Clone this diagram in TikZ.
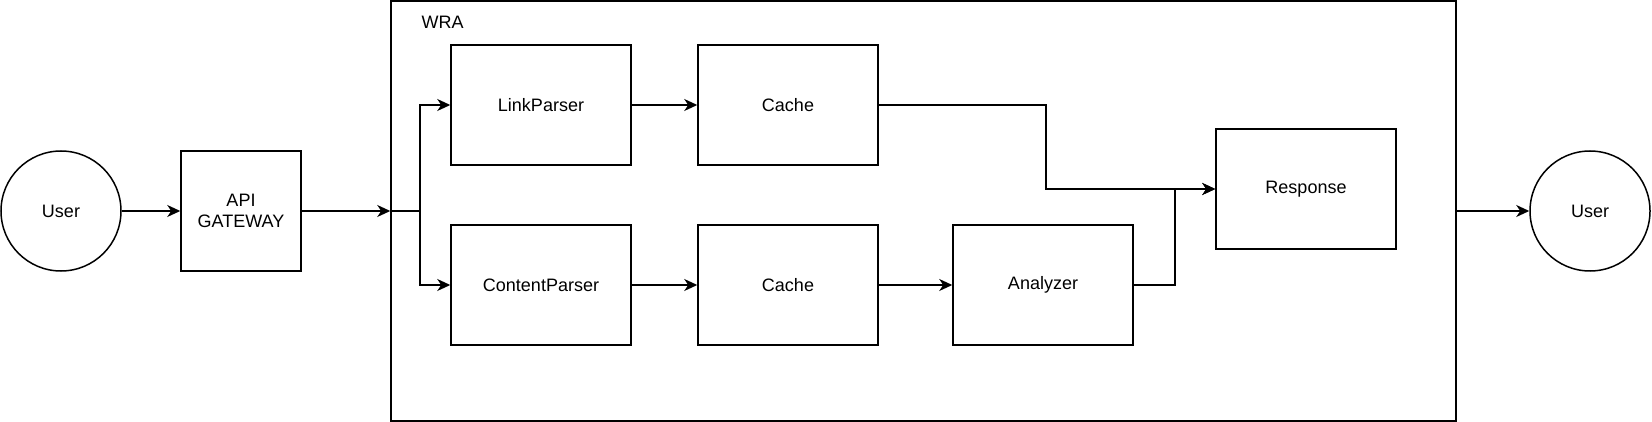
\documentclass[tikz,border=0pt]{standalone}
\usepackage{fontspec}
\setmainfont{Liberation Sans}
\usetikzlibrary{arrows.meta}
\tikzset{
  box/.style={draw, line width=1.5pt, minimum width=180pt, minimum height=120pt, inner sep=0pt, align=center},
  person/.style={draw, circle, line width=1.5pt, minimum size=120pt, inner sep=0pt},
  flow/.style={line width=1.5pt, -{Stealth[length=13pt,width=12pt,inset=4pt]}},
  wire/.style={line width=1.5pt}
}
\begin{document}
\begin{tikzpicture}[x=1pt, y=-1pt, font=\fontsize{18}{21}\selectfont]
        \useasboundingbox (0,0) rectangle (1652,422);

        % 外框
        \node[draw, line width=1.5pt, minimum width=1065pt, minimum height=420pt, inner sep=0pt] (wra) at (923.5,211) {};
        \node[anchor=west] (wralabel) at (418,22) {WRA};

        % 用户和网关
        \node[person] (user) at (61,211) {User};
        \node[box, minimum width=120pt] (gateway) at (241,211) {API\\GATEWAY};
        \node[person] (client) at (1590,211) {User};

        % 模块
        \node[box] (linkparser) at (541,105) {LinkParser};
        \node[box] (cachetop) at (788,105) {Cache};
        \node[box] (contentparser) at (541,285) {ContentParser};
        \node[box] (cachebottom) at (788,285) {Cache};
        \node[box] (analyzer) at (1043,285) {Analyzer};
        \node[box] (response) at (1306,189) {Response};

        % 连线
        \coordinate (fork) at (420,211);
        \draw[flow] (user) -- (gateway);
        \draw[flow] (gateway) -- (wra.west);
        \draw[wire] (wra.west) -- (fork);
        \draw[flow] (fork) |- (linkparser.west);
        \draw[flow] (fork) |- (contentparser.west);
        \draw[flow] (linkparser) -- (cachetop);
        \draw[flow] (contentparser) -- (cachebottom);
        \draw[flow] (cachebottom) -- (analyzer);
        \draw[flow] (cachetop.east) -- (1046,105) |- (response.west);
        \draw[flow] (analyzer.east) -- (1175,285) |- (response.west);
        \draw[flow] (wra.east) -- (client);
    \end{tikzpicture}
\end{document}
